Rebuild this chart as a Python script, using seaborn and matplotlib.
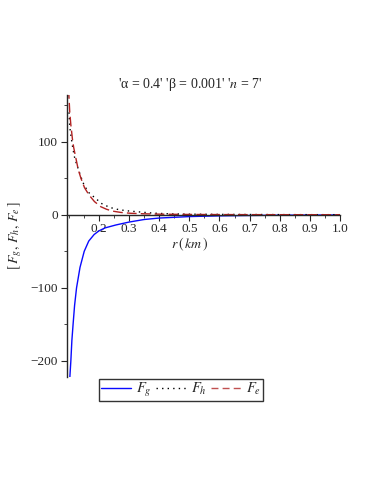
import pandas as pd
import matplotlib
matplotlib.use("Agg")
import matplotlib.pyplot as plt
from matplotlib.ticker import MultipleLocator
import seaborn as sns

# values
r_g = [0.1033, 0.1066, 0.110, 0.114, 0.119, 0.1255, 0.137, 0.151, 0.166, 0.184,
       0.20, 0.22, 0.256, 0.30, 0.35, 0.40, 0.50, 0.60, 0.70, 0.80, 0.90, 1.00]
F_g = [-222, -200, -172, -150, -124, -100, -72, -50, -36, -27,
       -22, -18, -14, -10, -6.5, -4.5, -2.5, -1.5, -1.0, -0.6, -0.4, -0.3]

r_h = [0.1005, 0.103, 0.107, 0.112, 0.118, 0.125, 0.14, 0.151, 0.167, 0.187,
       0.21, 0.236, 0.26, 0.29, 0.338, 0.38, 0.437, 0.50, 0.60, 0.80, 1.00]
F_h = [140, 120, 108, 94, 80, 70, 52, 40, 30, 23,
       15, 10, 7.5, 5.5, 3.7, 2.2, 1.2, 0.8, 0.5, 0.2, 0.1]

r_e = [0.0995, 0.1, 0.103, 0.1066, 0.112, 0.116, 0.123, 0.131, 0.14, 0.152,
       0.167, 0.185, 0.206, 0.225, 0.245, 0.272, 0.305, 0.35, 0.40, 0.50,
       0.60, 0.70, 0.85, 1.00]
F_e = [172, 164, 140, 123, 103, 92, 78, 62, 50, 37,
       27, 18, 11, 7.5, 5, 3.2, 2, 1.3, 0.8, 0.4,
       0.25, 0.15, 0.08, 0.05]

labels = ["$F_g$", "$F_h$", "$F_e$"]

df = pd.concat([
    pd.DataFrame({"r": r_g, "F": F_g, "force": labels[0]}),
    pd.DataFrame({"r": r_h, "F": F_h, "force": labels[1]}),
    pd.DataFrame({"r": r_e, "F": F_e, "force": labels[2]}),
])

sns.set_style("ticks")
plt.rcParams["font.family"] = ["Liberation Serif", "DejaVu Serif"]
plt.rcParams["mathtext.fontset"] = "stix"
plt.rcParams["font.size"] = 9

fig = plt.figure(figsize=(3.74, 4.84), dpi=100)
ax = fig.add_axes([0.178, 0.221, 0.731, 0.583])

palette = {labels[0]: "#0a0aff", labels[1]: "black", labels[2]: "#b22222"}
sns.lineplot(data=df, x="r", y="F", hue="force", style="force",
             palette=palette, sort=False, estimator=None, ax=ax,
             dashes={labels[0]: "", labels[1]: (1, 3), labels[2]: (7, 3)},
             linewidth=1.0, legend=False)

ax.set_xlim(0.0924, 1.0)
ax.set_ylim(-222, 164)

ax.spines["top"].set_visible(False)
ax.spines["right"].set_visible(False)
ax.spines["bottom"].set_position(("data", 0))
ax.spines["left"].set_linewidth(1.0)
ax.spines["bottom"].set_linewidth(1.0)

ax.xaxis.set_minor_locator(MultipleLocator(0.05))
ax.yaxis.set_minor_locator(MultipleLocator(50))
ax.set_xticks([0.2, 0.3, 0.4, 0.5, 0.6, 0.7, 0.8, 0.9, 1.0])
ax.set_xticklabels(["0.2", "0.3", "0.4", "0.5", "0.6", "0.7", "0.8", "0.9", "1.0"])
ax.set_yticks([-200, -100, 0, 100])
ax.set_yticklabels(["\u2212200", "\u2212100", "0", "100"])
ax.tick_params(which="major", length=4, width=0.8, labelsize=9.5, pad=2)
ax.tick_params(which="minor", length=2.5, width=0.6)

ax.set_xlabel("$r\\,(\\,km\\,)$", fontsize=10)
ax.xaxis.set_label_coords(0.449, 0.50)
ax.set_ylabel("$[\\,F_g,\\,F_h,\\,F_e\\,]$", fontsize=10)
ax.yaxis.set_label_coords(-0.157, 0.50)

fig.text(0.508, 0.826, "'\u03b1 = 0.4' '\u03b2 = 0.001' '$n$ = 7'",
         ha="center", va="center", fontsize=10)

handles = [
    plt.Line2D([], [], color="#0a0aff", lw=1.0),
    plt.Line2D([], [], color="black", lw=1.0, dashes=(1, 3)),
    plt.Line2D([], [], color="#c05050", lw=1.0, dashes=(5, 3)),
]
leg = fig.legend(handles, labels, loc="center", bbox_to_anchor=(0.484, 0.194),
                 ncol=3, frameon=True, fancybox=False, fontsize=10.5,
                 handlelength=2.1, handletextpad=0.3, columnspacing=0.3,
                 borderpad=0.15, borderaxespad=0)
leg.get_frame().set_edgecolor("black")
leg.get_frame().set_linewidth(1.0)

fig.savefig("out.png", dpi=100)
